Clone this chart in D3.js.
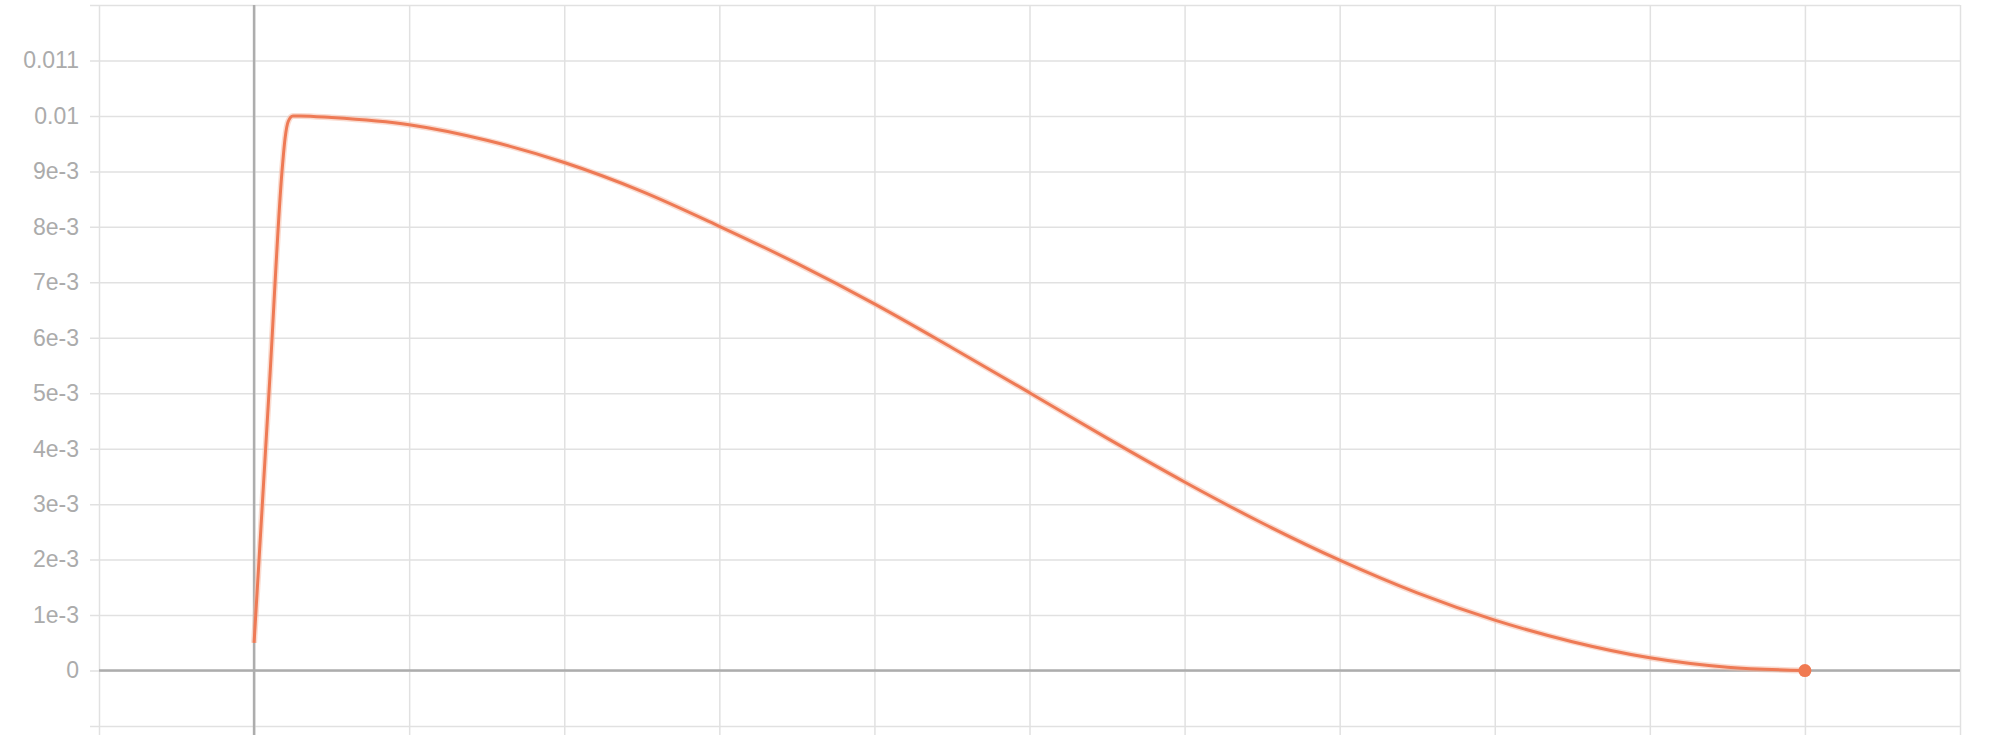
<!DOCTYPE html>
<html lang="en">
<head>
    <meta charset="UTF-8">
    <script src="https://cdn.jsdelivr.net/npm/d3@7"></script>
    <title>Learning rate schedule</title>
    <style>
        body { margin: 0; background: white; overflow: hidden; }
        svg { display: block; }
        .grid line { stroke: #e1e1e1; stroke-width: 1.5px; }
        .grid text { fill: #ababab; font-family: Helvetica, Arial, "Liberation Sans", sans-serif; font-size: 23px; }
        .zero { stroke: #adadad; stroke-width: 2.5px; }
    </style>
</head>
<body>
    <div class="figure"></div>
    <script>
        // values
        const steps = [0, 0.1, 0.18, 0.2, 0.22, 0.25, 0.3, 0.5, 1, 1.5, 2, 2.5, 3, 3.5, 4, 4.5, 5, 5.5, 6, 6.5, 7, 7.5, 8, 8.5, 9, 9.5, 10];
        const lr = [0.0005, 0.0052, 0.0090, 0.0096, 0.0099, 0.0100, 0.0100, 0.00997, 0.00984, 0.00956, 0.00916, 0.00864, 0.00801, 0.00734, 0.00661, 0.00582, 0.00501, 0.00419, 0.00340, 0.00266, 0.00199, 0.00140, 0.00091, 0.00052, 0.00023, 0.00006, 0];

        const xTicks = d3.range(-1, 12);
        const yTicks = d3.range(-1, 13).map(d => d / 1000);
        const yLabels = ["", "0", "1e-3", "2e-3", "3e-3", "4e-3", "5e-3", "6e-3", "7e-3", "8e-3", "9e-3", "0.01", "0.011", ""];

        const svgW = 1999, svgH = 742;
        const plotL = 99, plotR = 1960, plotT = 5, plotB = 726;

        const svg = d3.select(".figure").append("svg")
            .attr("width", svgW)
            .attr("height", svgH);

        const x = d3.scaleLinear().domain([-1, 11]).range([plotL, plotR]);
        const y = d3.scaleLinear().domain([-0.001, 0.012]).range([plotB, plotT]);

        // vertical grid, with small ticks below the plot
        svg.append("g")
            .attr("class", "grid")
            .attr("transform", `translate(0,${plotT})`)
            .call(d3.axisBottom(x).tickValues(xTicks).tickSize(plotB + 9 - plotT).tickFormat(""))
            .call(g => g.select(".domain").remove());

        // horizontal grid and labels
        svg.append("g")
            .attr("class", "grid")
            .attr("transform", `translate(${plotL - 9},0)`)
            .call(d3.axisLeft(y).tickValues(yTicks).tickSize(-(plotR - plotL + 9)).tickPadding(11)
                .tickFormat((d, i) => yLabels[i]))
            .call(g => g.select(".domain").remove());

        // zero lines
        svg.append("line").attr("class", "zero")
            .attr("x1", plotL).attr("x2", plotR).attr("y1", y(0)).attr("y2", y(0));
        svg.append("line").attr("class", "zero")
            .attr("x1", x(0)).attr("x2", x(0)).attr("y1", plotT).attr("y2", plotB + 9);

        const points = steps.map((s, i) => [s, lr[i]]);
        const line = d3.line()
            .x(d => x(d[0]))
            .y(d => y(d[1]))
            .curve(d3.curveMonotoneX);

        // soft halo under the line
        svg.append("path")
            .attr("d", line(points))
            .attr("fill", "none")
            .attr("stroke", "#f6b9a3")
            .attr("stroke-opacity", 0.5)
            .attr("stroke-width", 6);

        svg.append("path")
            .attr("d", line(points))
            .attr("fill", "none")
            .attr("stroke", "#ee7a55")
            .attr("stroke-width", 3);

        const last = points[points.length - 1];
        svg.append("circle")
            .attr("cx", x(last[0]))
            .attr("cy", y(last[1]))
            .attr("r", 6.5)
            .attr("fill", "#f07a52");
    </script>
</body>
</html>
